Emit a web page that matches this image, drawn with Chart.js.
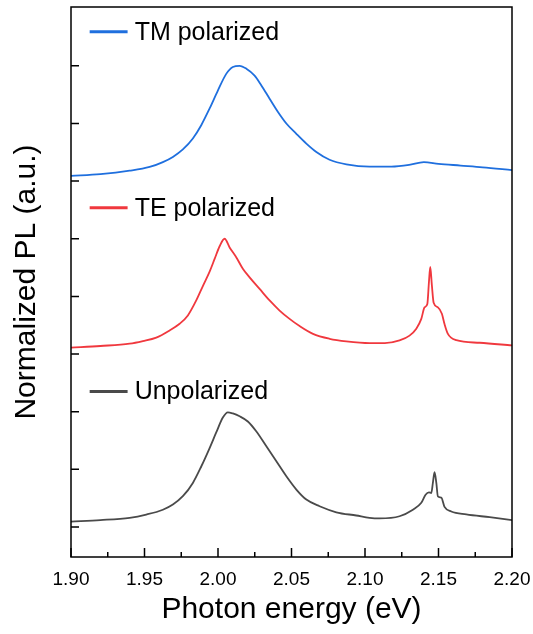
<!DOCTYPE html>
<html>
<head>
<meta charset="utf-8">
<script src="https://cdn.jsdelivr.net/npm/chart.js@4.4.0/dist/chart.umd.min.js"></script>
<style>
    html, body { margin: 0; padding: 0; background: #fff; }
    #wrap { width: 533px; height: 634px; }
</style>
</head>
<body>
<div id="wrap"><canvas id="chart"></canvas></div>
<script>
// Energie (eV) e intensita' normalizzate (0..2)
const E_TM = [1.900, 1.920, 1.9399, 1.9535, 1.9625, 1.9693, 1.9761, 1.9829, 1.9886, 1.9943,
    1.9999, 2.0056, 2.0101, 2.0147, 2.0193, 2.0249, 2.0295, 2.0351, 2.0408, 2.0465,
    2.0533, 2.0601, 2.0669, 2.0759, 2.0873, 2.1031, 2.118, 2.130, 2.140, 2.150,
    2.165, 2.180, 2.200];
const PL_TM = [0.09, 0.12, 0.18, 0.245, 0.33, 0.42, 0.55, 0.74, 0.97, 1.26,
    1.57, 1.86, 1.98, 2.00, 1.95, 1.83, 1.66, 1.43, 1.20, 1.00,
    0.82, 0.65, 0.505, 0.37, 0.29, 0.25, 0.25, 0.28, 0.33, 0.30,
    0.27, 0.24, 0.19];

const E_TE = [1.900, 1.920, 1.9399, 1.9489, 1.958, 1.9671, 1.9739, 1.9795, 1.9852, 1.9897,
    1.9943, 1.9977, 2.0011, 2.0045, 2.0079, 2.0124, 2.0169, 2.0215, 2.0283, 2.0351,
    2.0419, 2.0487, 2.0555, 2.0646, 2.0759, 2.0873, 2.1031, 2.1135, 2.1235, 2.1303,
    2.1349, 2.1383, 2.1405, 2.1424, 2.1435, 2.1444, 2.1455, 2.1467, 2.1496, 2.1523,
    2.1541, 2.1564, 2.1621, 2.178, 2.200];
const PL_TE = [0.11, 0.14, 0.18, 0.225, 0.285, 0.41, 0.525, 0.67, 0.93, 1.18,
    1.43, 1.65, 1.87, 2.00, 1.85, 1.68, 1.48, 1.33, 1.13, 0.93,
    0.755, 0.61, 0.485, 0.35, 0.265, 0.22, 0.19, 0.19, 0.236, 0.32,
    0.44, 0.61, 0.81, 0.87, 1.25, 1.51, 1.19, 0.89, 0.81, 0.70,
    0.52, 0.35, 0.24, 0.196, 0.15];

const E_UN = [1.900, 1.920, 1.9399, 1.9512, 1.9625, 1.9693, 1.9761, 1.9829, 1.9886, 1.9943,
    1.9988, 2.0033, 2.0067, 2.0101, 2.0147, 2.0203, 2.026, 2.0329, 2.0397, 2.0465,
    2.0533, 2.0601, 2.0691, 2.0805, 2.0941, 2.1031, 2.1099, 2.1235, 2.1326, 2.1383,
    2.1412, 2.1435, 2.1451, 2.1462, 2.1473, 2.1485, 2.1496, 2.1519, 2.1541, 2.1587,
    2.1689, 2.1848, 2.200];
const PL_UN = [0.095, 0.12, 0.16, 0.216, 0.30, 0.39, 0.534, 0.765, 1.05, 1.37,
    1.64, 1.90, 1.99, 1.97, 1.92, 1.83, 1.66, 1.40, 1.14, 0.88,
    0.65, 0.476, 0.36, 0.256, 0.20, 0.16, 0.15, 0.187, 0.30, 0.42,
    0.56, 0.60, 0.59, 0.77, 0.95, 0.77, 0.53, 0.51, 0.35, 0.27,
    0.22, 0.17, 0.12];

// Spostamento verticale di ogni curva
const OFFSETS = [6, 3, 0];
const LABELS = ['TM polarized', 'TE polarized', 'Unpolarized'];
const COLORS = ['#1f6fde', '#f0383e', '#4a4a4a'];

// Tacche degli assi
const X_MAJOR = [1.90, 1.95, 2.00, 2.05, 2.10, 2.15, 2.20];
const X_MINOR = [1.925, 1.975, 2.025, 2.075, 2.125, 2.175];
const Y_TICKS = [0, 1, 2, 3, 4, 5, 6, 7, 8];

const FONT = "'Liberation Sans', Arial, Helvetica, sans-serif";

function toPoints(xs, ys, off) {
    return xs.map((x, i) => ({ x: x, y: ys[i] + off }));
}

const series = [
    toPoints(E_TM, PL_TM, OFFSETS[0]),
    toPoints(E_TE, PL_TE, OFFSETS[1]),
    toPoints(E_UN, PL_UN, OFFSETS[2])
];

// Cornice, tacche interne ed etichette delle curve
const framePlugin = {
    id: 'frame',
    afterDraw(chart) {
        const { ctx, chartArea: a, scales: { x, y } } = chart;
        ctx.save();
        ctx.strokeStyle = '#000';
        ctx.lineWidth = 1.5;
        ctx.strokeRect(a.left, a.top, a.right - a.left, a.bottom - a.top);

        ctx.beginPath();
        X_MAJOR.forEach(v => {
            const px = x.getPixelForValue(v);
            ctx.moveTo(px, a.bottom);
            ctx.lineTo(px, a.bottom - 9);
        });
        X_MINOR.forEach(v => {
            const px = x.getPixelForValue(v);
            ctx.moveTo(px, a.bottom);
            ctx.lineTo(px, a.bottom - 5);
        });
        Y_TICKS.forEach(v => {
            const py = y.getPixelForValue(v);
            ctx.moveTo(a.left, py);
            ctx.lineTo(a.left + 8, py);
        });
        ctx.stroke();

        // etichette tipo legenda accanto a ogni curva
        const labelY = [8.59, 5.54, 2.35];
        ctx.font = '25px ' + FONT;
        ctx.textBaseline = 'middle';
        ctx.fillStyle = '#000';
        LABELS.forEach((txt, i) => {
            const py = y.getPixelForValue(labelY[i]);
            ctx.strokeStyle = COLORS[i];
            ctx.lineWidth = 3;
            ctx.beginPath();
            ctx.moveTo(x.getPixelForValue(1.9127), py);
            ctx.lineTo(x.getPixelForValue(1.9385), py);
            ctx.stroke();
            ctx.fillText(txt, x.getPixelForValue(1.9433), py + 1);
        });
        ctx.restore();
    }
};

const ctx = document.getElementById('chart').getContext('2d');
new Chart(ctx, {
    type: 'scatter',
    data: {
        datasets: series.map((pts, i) => ({
            label: LABELS[i],
            data: pts,
            showLine: true,
            borderColor: COLORS[i],
            borderWidth: 1.8,
            pointRadius: 0,
            cubicInterpolationMode: 'monotone',
            fill: false
        }))
    },
    options: {
        responsive: true,
        maintainAspectRatio: false,
        animation: false,
        layout: { padding: { left: 0, right: 21, top: 7, bottom: 0 } },
        plugins: {
            legend: { display: false },
            tooltip: { enabled: false }
        },
        scales: {
            x: {
                type: 'linear',
                min: 1.9,
                max: 2.2,
                grid: { display: false },
                border: { display: false },
                ticks: {
                    stepSize: 0.05,
                    color: '#000',
                    padding: 3,
                    maxRotation: 0,
                    font: { family: FONT, size: 19 },
                    callback: v => Number(v).toFixed(2)
                },
                title: {
                    display: true,
                    text: 'Photon energy (eV)',
                    color: '#000',
                    font: { family: FONT, size: 30 },
                    padding: { top: 0, bottom: 6 }
                },
                afterFit: s => {
                    s.height = 77;
                    s.paddingLeft = 0;
                    s.paddingRight = 0;
                }
            },
            y: {
                min: -0.52,
                max: 9.02,
                grid: { display: false },
                border: { display: false },
                ticks: { display: false, stepSize: 1 },
                title: {
                    display: true,
                    text: 'Normalized PL (a.u.)',
                    color: '#000',
                    font: { family: FONT, size: 30 },
                    padding: { top: 9, bottom: 0 }
                },
                afterFit: s => {
                    s.width = 71;
                    s.paddingTop = 0;
                    s.paddingBottom = 0;
                }
            }
        }
    },
    plugins: [framePlugin]
});
</script>
</body>
</html>
